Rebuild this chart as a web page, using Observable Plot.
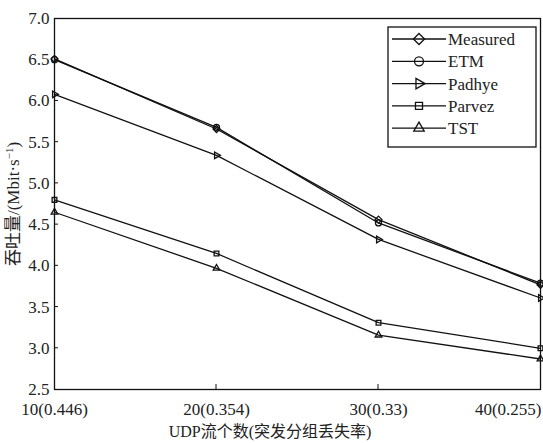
<!DOCTYPE html>
<html>
<head>
<meta charset="utf-8">
<script src="https://cdn.jsdelivr.net/npm/d3@7"></script>
<script src="https://cdn.jsdelivr.net/npm/@observablehq/plot@0.6"></script>
<style>
  html, body { margin: 0; padding: 0; background: #fff; }
  #chart { width: 543px; height: 443px; }
</style>
</head>
<body>
<div id="chart"></div>
<script>
// UDP flow counts (burst loss rate in parentheses)
const flows = [10, 20, 30, 40];
const flowLabels = ["10(0.446)", "20(0.354)", "30(0.33)", "40(0.255)"];

// Throughput (Mbit/s) per model
const measured = [6.51, 5.66, 4.56, 3.77];
const etm      = [6.50, 5.68, 4.52, 3.79];
const padhye   = [6.08, 5.34, 4.32, 3.61];
const parvez   = [4.80, 4.15, 3.31, 3.00];
const tst      = [4.65, 3.97, 3.16, 2.87];

const yTicks = [2.5, 3.0, 3.5, 4.0, 4.5, 5.0, 5.5, 6.0, 6.5, 7.0];

const series = [
  {name: "Measured", values: measured, symbol: "diamond2", rotate: 0, r: 5},
  {name: "ETM",      values: etm,      symbol: "circle",   rotate: 0, r: 4.5},
  {name: "Padhye",   values: padhye,   symbol: "triangle2", rotate: 90, r: 5},
  {name: "Parvez",   values: parvez,   symbol: "square2",  rotate: 0, r: 4.5},
  {name: "TST",      values: tst,      symbol: "triangle2", rotate: 0, r: 5}
];

const rows = series.flatMap(s => s.values.map((v, i) => ({
  name: s.name, x: flows[i], y: v, symbol: s.symbol, rotate: s.rotate, r: s.r
})));
const tickRows = flows.map((f, i) => ({x: f, label: flowLabels[i]}));

const SERIF = "'Liberation Serif', 'DejaVu Serif', 'Noto Sans CJK SC', serif";
const FS = 17;

const W = 543, H = 443;
const plot = Plot.plot({
  width: W,
  height: H,
  marginLeft: 54,
  marginRight: 3,
  marginTop: 18,
  marginBottom: 54,
  style: {background: "#fff", fontSize: FS + "px", color: "#111", fontFamily: SERIF},
  x: {domain: [10, 40], ticks: flows, tickFormat: () => "", tickSize: 0, label: null},
  y: {domain: [2.5, 7.0], ticks: yTicks, tickFormat: d => d.toFixed(1), label: null},
  symbol: {type: "identity"},
  marks: [
    Plot.frame({stroke: "#111", strokeWidth: 1.3}),
    Plot.axisY({ticks: yTicks, tickSize: 0, tickPadding: 5, tickFormat: d => d.toFixed(1), fontSize: FS, color: "#222"}),
    Plot.line(rows, {x: "x", y: "y", z: "name", stroke: "#111", strokeWidth: 1.3}),
    Plot.dot(rows, {x: "x", y: "y", symbol: "symbol", rotate: "rotate", r: "r", stroke: "#111", fill: "none", strokeWidth: 1.3}),
    Plot.text(tickRows.slice(0, 3), {x: "x", y: 2.5, text: "label", dy: 20, fontSize: FS, fill: "#222", textAnchor: "middle"}),
    Plot.text(tickRows.slice(3), {x: "x", y: 2.5, text: "label", dy: 20, dx: 1, fontSize: FS, fill: "#222", textAnchor: "end"})
  ]
});
document.getElementById("chart").appendChild(plot);

const svg = d3.select(plot);
const xs = plot.scale("x"), ys = plot.scale("y");

// inward tick marks on both axes
const ticksG = svg.append("g").attr("stroke", "#111").attr("stroke-width", 1);
yTicks.slice(1, -1).forEach(t => {
  const y = ys.apply(t);
  ticksG.append("line").attr("x1", xs.apply(10)).attr("x2", xs.apply(10) + 4).attr("y1", y).attr("y2", y);
});
flows.slice(1, 3).forEach(f => {
  const x = xs.apply(f);
  ticksG.append("line").attr("x1", x).attr("x2", x).attr("y1", ys.apply(2.5)).attr("y2", ys.apply(2.5) - 5);
});

// axis titles
svg.append("text")
  .attr("x", 270).attr("y", 437)
  .attr("text-anchor", "middle")
  .attr("font-size", 16).attr("fill", "#222")
  .text("UDP流个数(突发分组丢失率)");

const yt = svg.append("text")
  .attr("transform", "translate(19,204) rotate(-90)")
  .attr("text-anchor", "middle")
  .attr("font-size", FS).attr("fill", "#222");
yt.append("tspan").text("吞吐量/(Mbit·s");
yt.append("tspan").attr("baseline-shift", "super").attr("font-size", 11).text("−1");
yt.append("tspan").text(")");

// legend
const lg = svg.append("g").attr("transform", "translate(388,27)");
lg.append("rect").attr("width", 148).attr("height", 120).attr("fill", "#fff").attr("stroke", "#111").attr("stroke-width", 1.3);
const sym = {
  diamond2: d3.symbolDiamond2, circle: d3.symbolCircle, triangle2: d3.symbolTriangle2, square2: d3.symbolSquare2
};
series.forEach((s, i) => {
  const cy = 12 + i * 22.3;
  const row = lg.append("g").attr("transform", `translate(0,${cy})`);
  row.append("line").attr("x1", 4).attr("x2", 58).attr("y1", 0).attr("y2", 0).attr("stroke", "#111").attr("stroke-width", 1.3);
  const area = Math.PI * s.r * s.r;
  row.append("path")
    .attr("d", d3.symbol(sym[s.symbol], area)())
    .attr("transform", `translate(31,0) rotate(${s.rotate})`)
    .attr("fill", "none").attr("stroke", "#111").attr("stroke-width", 1.3);
  row.append("text").attr("x", 60).attr("y", 0).attr("dy", "0.35em")
    .attr("text-anchor", "start")
    .attr("font-size", FS).attr("fill", "#222").text(s.name);
});

// serif type throughout
svg.selectAll("text").style("font-family", SERIF);
</script>
</body>
</html>
